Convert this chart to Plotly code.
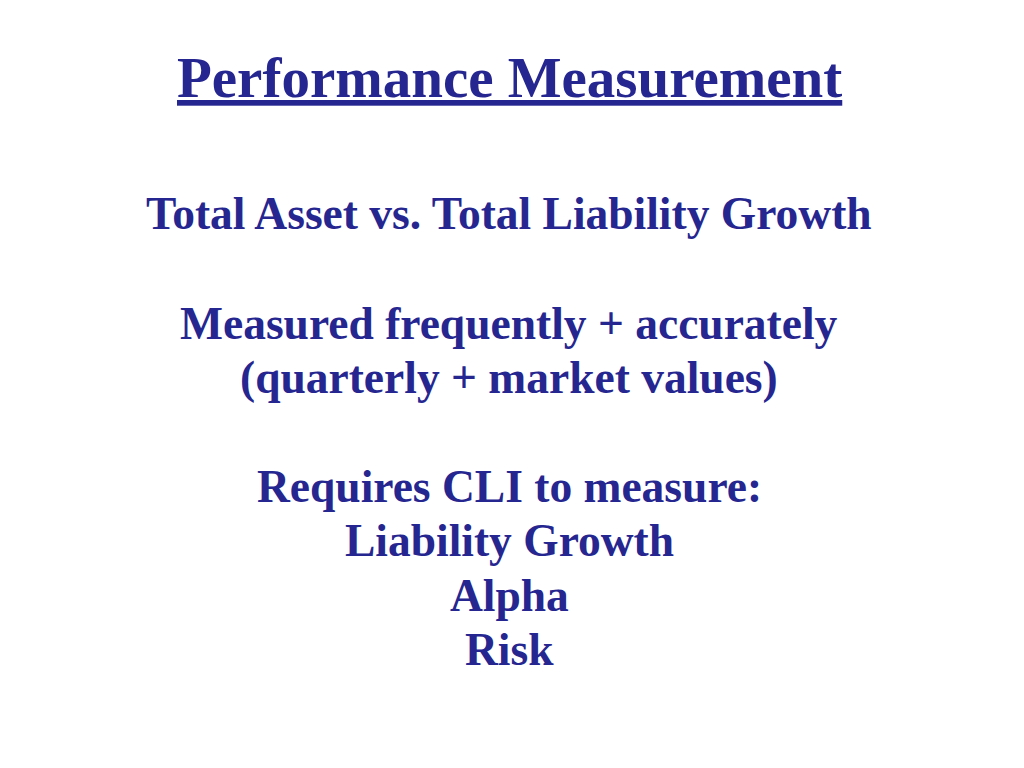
import plotly.graph_objects as go

title_text = "Performance Measurement"
body_lines = [
    "Total Asset vs. Total Liability Growth",
    "Measured frequently + accurately",
    "(quarterly + market values)",
    "Requires CLI to measure:",
    "Liability Growth",
    "Alpha",
    "Risk",
]
# approximate baseline positions (px from top)
body_baselines = [227, 337, 391, 500, 554, 609, 663]
title_baseline = 97

W, H = 1024, 768
COLOR = "#262690"
FONT = "Liberation Serif"
BODY_SIZE = 45.5
TITLE_SIZE = 57
X_CENTER = 501 / W

fig = go.Figure()
annotations = [
    dict(
        text="<b><u>" + title_text + "</u></b>",
        x=X_CENTER, xref="paper", xanchor="center",
        y=1 - (title_baseline - 0.33 * TITLE_SIZE - 9) / H, yref="paper", yanchor="middle",
        showarrow=False,
        font=dict(family=FONT, size=TITLE_SIZE, color=COLOR),
    )
]
for line, bl in zip(body_lines, body_baselines):
    annotations.append(dict(
        text="<b>" + line + "</b>",
        x=X_CENTER, xref="paper", xanchor="center",
        y=1 - (bl - 0.33 * BODY_SIZE - 6) / H, yref="paper", yanchor="middle",
        showarrow=False,
        font=dict(family=FONT, size=BODY_SIZE, color=COLOR),
    ))

fig.update_layout(
    width=W, height=H,
    margin=dict(l=0, r=0, t=0, b=0),
    paper_bgcolor="white", plot_bgcolor="white",
    xaxis=dict(visible=False, range=[0, 1]),
    yaxis=dict(visible=False, range=[0, 1]),
    annotations=annotations,
    showlegend=False,
)
fig.write_html("out.html")
